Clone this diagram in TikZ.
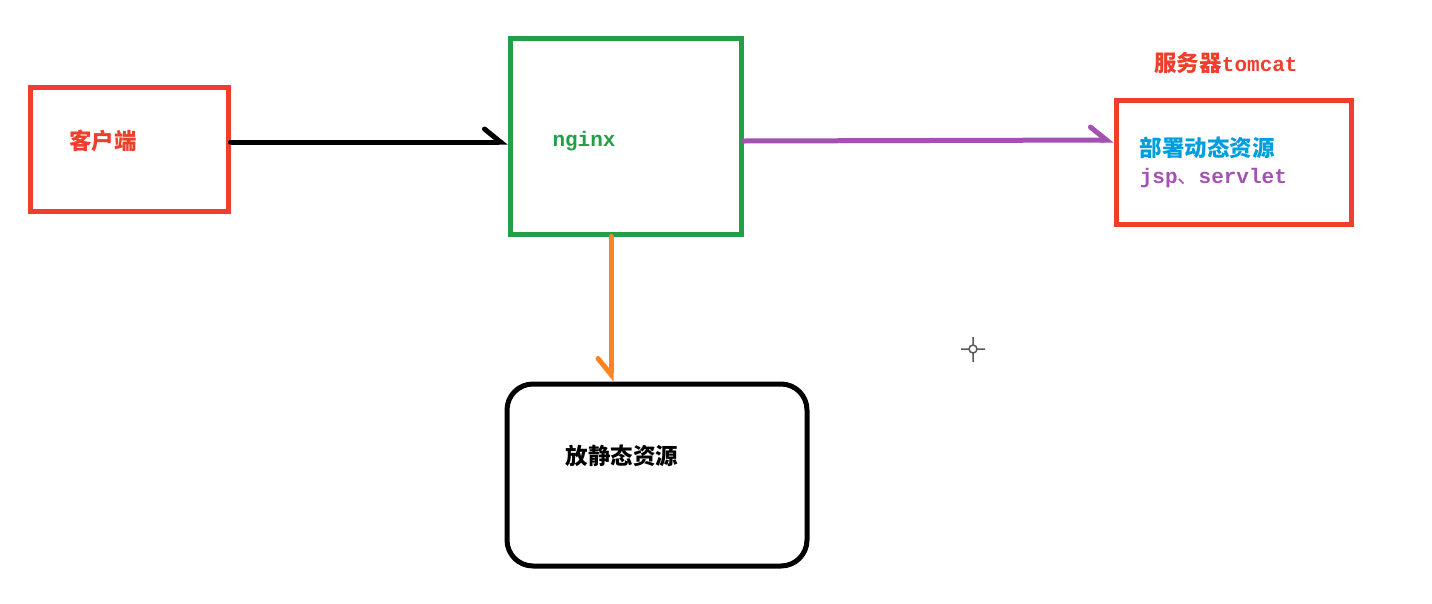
\documentclass[tikz,border=0pt]{standalone}
\usepackage{fontspec}
\newfontfamily\cjk{Noto Sans CJK SC}
\setmonofont{Liberation Mono}
\usetikzlibrary{arrows.meta}

\definecolor{boxred}{RGB}{240,62,44}
\definecolor{boxgreen}{RGB}{34,160,72}
\definecolor{hookpurple}{RGB}{163,82,178}
\definecolor{hookorange}{RGB}{255,132,32}
\definecolor{textblue}{RGB}{0,158,220}

\newcommand{\cjkfont}{\cjk\bfseries\fontsize{22.5}{26}\selectfont}
\newcommand{\monofont}{\ttfamily\bfseries\fontsize{21}{25}\selectfont}

\tikzset{every picture/.style={line width=5pt}}
\tikzset{
  boxnode/.style={draw, line width=5pt, inner sep=0pt},
  cjktext/.style={font=\cjkfont},
  monotext/.style={font=\monofont},
  hook/.style={line cap=round, -{Straight Barb[left, length=16pt, width=26pt, line cap=round]}},
  hookr/.style={line cap=round, -{Straight Barb[right, length=16pt, width=26pt, line cap=round]}}
}

\begin{document}
\begin{tikzpicture}[x=1pt,y=1pt,yscale=-1,xscale=1]
	\useasboundingbox (0,0) rectangle (1432,603);

	% Client box
	\node [boxnode, boxred, minimum width=198pt, minimum height=124pt] (client) at (129,149) {};
	% Nginx box
	\node [boxnode, boxgreen, minimum width=231pt, minimum height=196pt] (nginx) at (625.5,136) {};
	% Tomcat box
	\node [boxnode, boxred, minimum width=235pt, minimum height=124pt] (tomcat) at (1233.5,162) {};
	% Static resources box
	\node [boxnode, black, rounded corners=26pt, minimum width=300pt, minimum height=182pt] (static) at (657,475) {};

	% Text Node
	\node [cjktext, text=boxred] (clienttext) at (103,141) {客户端};
	% Text Node
	\node [monotext, text=boxgreen] (nginxtext) at (584,141) {nginx};
	% Text Node
	\node [text=boxred] (tomcattitle) at (1226,63) {{\cjkfont 服务器}{\monofont tomcat}};
	% Text Node
	\node [cjktext, text=textblue, anchor=west] (dynamictext) at (1134,148) {部署动态资源};
	% Text Node
	\node [text=hookpurple, anchor=west] (jsptext) at (1134,178) {{\monofont jsp}{\cjk\fontsize{21}{25}\selectfont 、}{\monofont servlet}};
	% Text Node
	\node [cjktext, text=black] (statictext) at (622,456) {放静态资源};

	% Arrows
	\draw [hook, black] (client.east |- 0,142) -- (nginx.west |- 0,142);
	\draw [hook, hookpurple] (nginx.east |- 0,141) -- (tomcat.west |- 0,140);
	\draw [hookr, hookorange] ([xshift=-14.5pt]nginx.south) -- ([xshift=-14.5pt]nginx.south |- static.north);

	% cursor
	\draw [line width=1.5pt, gray!70!black] (973,349) circle (4) (961,349) -- (969,349) (977,349) -- (985,349) (973,337) -- (973,345) (973,353) -- (973,362);
\end{tikzpicture}
\end{document}
